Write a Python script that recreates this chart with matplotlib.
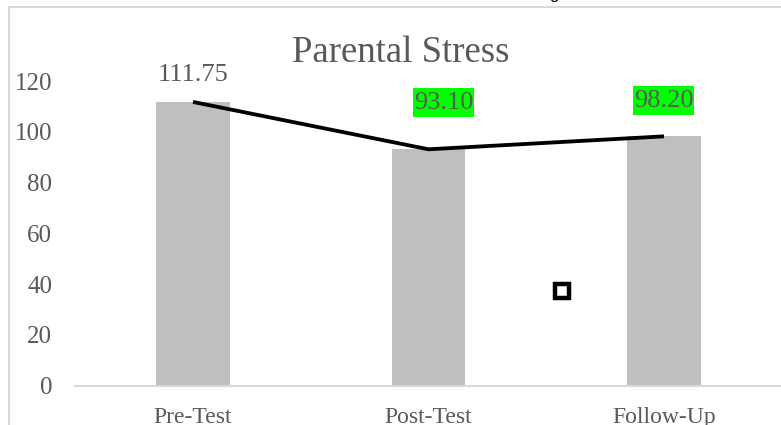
import matplotlib
matplotlib.use("Agg")
import matplotlib.pyplot as plt
from matplotlib.patches import Rectangle

# ---- data ----
categories = ["Pre-Test", "Post-Test", "Follow-Up"]
bar_values = [111.75, 93.10, 98.20]
line_values = [111.75, 93.10, 98.20]
value_labels = ["111.75", "93.10", "98.20"]
label_highlight = [False, True, True]
y_ticks = [0, 20, 40, 60, 80, 100, 120]
stray_marker_x = [1.567]
stray_marker_y = [37.3]
chart_title = "Parental Stress"

# ---- style ----
W, H = 781, 425
DPI = 100
TXT = "#595959"
SERIF = ["Liberation Serif", "DejaVu Serif"]

fig = plt.figure(figsize=(W / DPI, H / DPI), dpi=DPI)
fig.patch.set_facecolor("white")

# chart frame (extends beyond right/bottom edges)
frame = Rectangle((9 / W, -0.2), 2.0, 1.2 - 7 / H, transform=fig.transFigure,
                  fill=False, edgecolor="#d9d9d9", linewidth=1.5, zorder=0)
fig.patches.append(frame)

# cut-off text at very top
fig.text(554 / W, (H + 1) / H, "g", ha="center", va="baseline",
         fontsize=12, color="black", family=["Liberation Sans", "DejaVu Sans"])

left_px, right_px = 75.25, 781.75
bottom_px, top_px = 385.7, 81.0
ax = fig.add_axes([left_px / W, (H - bottom_px) / H,
                   (right_px - left_px) / W, (bottom_px - top_px) / H])
ax.set_facecolor("none")

x = list(range(len(categories)))
ax.bar(x, bar_values, width=0.31, color="#bfbfbf", zorder=2)
ax.plot(x, line_values, color="black", linewidth=2.75, zorder=3,
        solid_capstyle="butt", solid_joinstyle="miter")
ax.plot(stray_marker_x, stray_marker_y, marker="s", markersize=9.5,
        markeredgewidth=3.2, markerfacecolor="white", markeredgecolor="black",
        linestyle="none", zorder=4, clip_on=False)

ax.set_xlim(-0.5, len(categories) - 0.5)
ax.set_ylim(0, 120)
ax.set_yticks(y_ticks)
ax.set_yticklabels([str(v) for v in y_ticks])
ax.set_xticks(x)
ax.set_xticklabels(categories)

for sp in ["top", "right", "left"]:
    ax.spines[sp].set_visible(False)
ax.spines["bottom"].set_color("#d9d9d9")
ax.spines["bottom"].set_linewidth(1.5)

ax.tick_params(axis="y", length=0, pad=16.5, labelsize=18, labelcolor=TXT)
ax.tick_params(axis="x", length=0, pad=15, labelsize=17, labelcolor=TXT)
for lab in ax.get_xticklabels() + ax.get_yticklabels():
    lab.set_family(SERIF)

# value labels (manually positioned offsets, in pixels)
offsets = [(0, 27), (15, 46.7), (-0.5, 35.8)]
for xi, v, txt, hl, off in zip(x, line_values, value_labels, label_highlight, offsets):
    kw = {}
    if hl:
        kw["bbox"] = dict(boxstyle="square,pad=0.02", facecolor="#00ff00",
                          edgecolor="none", mutation_aspect=6)
    ax.annotate(txt, (xi, v), xytext=off, textcoords="offset pixels",
                ha="center", va="center", fontsize=19, color=TXT,
                family=SERIF, zorder=5, annotation_clip=False, **kw)

# title
fig.text(400.5 / W, (H - 61.7) / H, chart_title, ha="center", va="baseline",
         fontsize=26.5, color=TXT, family=SERIF)

fig.savefig("out.png", dpi=DPI)
